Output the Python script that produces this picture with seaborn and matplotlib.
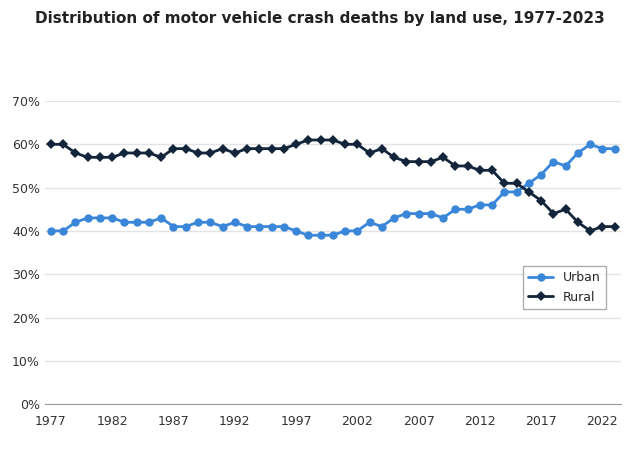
import matplotlib
matplotlib.use("Agg")
import matplotlib.pyplot as plt
import seaborn as sns
import pandas as pd

years = list(range(1977, 2024))
urban = [40,40,42,43,43,43,42,42,42,43,41,41,42,42,41,42,41,41,41,41,40,39,39,39,40,40,42,41,43,44,44,44,43,45,45,46,46,49,49,51,53,56,55,58,60,59,59]
rural = [60,60,58,57,57,57,58,58,58,57,59,59,58,58,59,58,59,59,59,59,60,61,61,61,60,60,58,59,57,56,56,56,57,55,55,54,54,51,51,49,47,44,45,42,40,41,41]

sns.set_style("white")
fig = plt.figure(figsize=(6.4, 4.49), dpi=100)
ax = fig.add_axes([0.07, 0.1, 0.90, 0.675])
df = pd.DataFrame({"year": years, "Urban": urban, "Rural": rural})
sns.lineplot(data=df, x="year", y="Urban", ax=ax, color="#3a86d8", marker="o", markersize=6, markeredgewidth=0, lw=2, label="Urban")
sns.lineplot(data=df, x="year", y="Rural", ax=ax, color="#13253a", marker="D", markersize=5, markeredgewidth=0, lw=2, label="Rural")
ax.set_ylim(0, 70)
ax.set_xlim(1976.5, 2023.5)
ax.set_yticks(range(0, 71, 10))
ax.set_yticklabels([f"{v}%" for v in range(0, 71, 10)])
ax.set_xticks(range(1977, 2024, 5))
ax.grid(axis="y", color="#e3e3e3", lw=1)
for s in ["top", "right", "left"]:
    ax.spines[s].set_visible(False)
ax.spines["bottom"].set_color("#999999")
ax.tick_params(axis="both", labelsize=9, colors="#333333", length=0)
ax.tick_params(axis="x", length=4, color="#999999")
ax.set_xlabel("")
ax.set_ylabel("")
ax.legend(loc="center right", bbox_to_anchor=(0.985, 0.385), fontsize=9, frameon=True, edgecolor="#999999", fancybox=False)
fig.suptitle("Distribution of motor vehicle crash deaths by land use, 1977-2023", fontsize=11, fontweight="bold", y=0.975, color="#222222")
fig.savefig("out.png", dpi=100)
